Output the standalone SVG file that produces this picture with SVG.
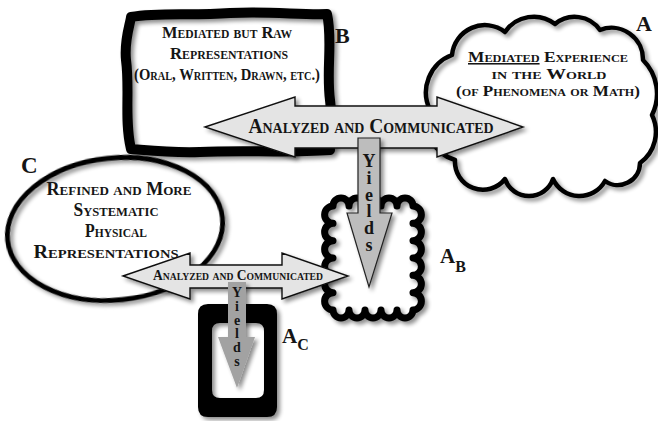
<svg xmlns="http://www.w3.org/2000/svg" width="658" height="421" viewBox="0 0 658 421">
  <style>
    .sc { font-family: "Liberation Serif", "Times New Roman", serif; font-weight: bold; font-variant: small-caps; fill: #151515; text-anchor: middle; }
    .lbl { font-family: "Liberation Serif", "Times New Roman", serif; font-weight: bold; fill: #151515; }
    .yl { font-family: "Liberation Serif", "Times New Roman", serif; font-weight: bold; fill: #151515; writing-mode: vertical-rl; text-orientation: upright; }
    .thick { fill: none; stroke: #000; stroke-linejoin: round; stroke-linecap: round; }
    .arrow { fill: #e4e4e4; stroke: #111; stroke-width: 1.4; stroke-linejoin: miter; }
  </style>
  <defs>
    <filter id="shadow" x="-15%" y="-15%" width="135%" height="135%">
      <feGaussianBlur in="SourceAlpha" stdDeviation="2.2" result="b"/>
      <feOffset in="b" dx="3" dy="3" result="o"/>
      <feComponentTransfer in="o" result="s">
        <feFuncA type="linear" slope="0.45"/>
      </feComponentTransfer>
      <feMerge>
        <feMergeNode in="s"/>
        <feMergeNode in="SourceGraphic"/>
      </feMerge>
    </filter>
    <filter id="soft" x="-15%" y="-15%" width="135%" height="135%">
      <feGaussianBlur in="SourceGraphic" stdDeviation="0.7" result="g"/>
      <feGaussianBlur in="SourceAlpha" stdDeviation="2.2" result="b"/>
      <feOffset in="b" dx="3" dy="3" result="o"/>
      <feComponentTransfer in="o" result="s">
        <feFuncA type="linear" slope="0.45"/>
      </feComponentTransfer>
      <feMerge>
        <feMergeNode in="s"/>
        <feMergeNode in="g"/>
      </feMerge>
    </filter>
  </defs>

  <rect width="658" height="421" fill="#fff"/>

  <!-- B: raw representations, hand-drawn thick frame -->
  <g id="node-b">
    <path class="thick" filter="url(#soft)" stroke-width="10" fill="#fff"
          d="M131,17 C160,12 190,16 230,13 C270,11 300,15 327,14 C333,40 326,70 330,100 C333,120 328,140 330,150 C290,153 240,150 200,152 C170,153 145,150 131,149 C124,120 130,90 126,60 C124,40 130,25 131,17 Z"/>
    <text class="sc" x="227" y="38" font-size="17" textLength="130" lengthAdjust="spacingAndGlyphs">Mediated but Raw</text>
    <text class="sc" x="229" y="59" font-size="17" textLength="118" lengthAdjust="spacingAndGlyphs">Representations</text>
    <text class="sc" x="227" y="80" font-size="17" textLength="186" lengthAdjust="spacingAndGlyphs">(Oral, Written, Drawn, etc.)</text>
    <text class="lbl" x="335" y="43" font-size="22">B</text>
  </g>

  <!-- A: experience in the world, cloud -->
  <g id="node-a">
    <path class="thick" filter="url(#shadow)" stroke-width="4.5" fill="#fff"
          d="M430,110 A40,40 0 0 1 452,55 A33,33 0 0 1 505,32 A34.6,34.6 0 0 1 555,24 A30.8,30.8 0 0 1 600,30 A31.5,31.5 0 0 1 643,60 A47.6,47.6 0 0 1 652,115 A38.5,38.5 0 0 1 640,163 A22.2,22.2 0 0 1 605,181 A29.1,29.1 0 0 1 553,179 A25.4,25.4 0 0 1 505,179 A28,28 0 0 1 455,160 A38.5,38.5 0 0 1 430,110 Z"/>
    <text class="sc" x="548" y="62" font-size="15.5" textLength="160" lengthAdjust="spacingAndGlyphs"><tspan text-decoration="underline">Mediated</tspan> Experience</text>
    <text class="sc" x="549" y="79" font-size="15.5" textLength="115" lengthAdjust="spacingAndGlyphs">in the World</text>
    <text class="sc" x="548" y="96" font-size="15.5" textLength="184" lengthAdjust="spacingAndGlyphs">(of Phenomena or Math)</text>
    <text class="lbl" x="636" y="31" font-size="22">A</text>
  </g>

  <!-- C: refined representations, ellipse -->
  <g id="node-c">
    <ellipse class="thick" filter="url(#shadow)" stroke-width="4.8" fill="#fff" cx="115" cy="229" rx="108" ry="71" transform="rotate(-6 115 229)"/>
    <text class="sc" x="119" y="195" font-size="18" textLength="145" lengthAdjust="spacingAndGlyphs">Refined and More</text>
    <text class="sc" x="116" y="216" font-size="18" textLength="85" lengthAdjust="spacingAndGlyphs">Systematic</text>
    <text class="sc" x="116" y="237" font-size="18" textLength="62" lengthAdjust="spacingAndGlyphs">Physical</text>
    <text class="sc" x="106" y="258" font-size="18" textLength="145" lengthAdjust="spacingAndGlyphs">Representations</text>
    <text class="lbl" x="21" y="173" font-size="23">C</text>
  </g>

  <!-- A_B: scalloped frame -->
  <g id="node-ab">
    <path class="thick" filter="url(#shadow)" stroke-width="7" fill="#fff"
          d="M333,206 a8,8 0 0 1 16,0 a8,8 0 0 1 16,0 a8,8 0 0 1 16,0 a8,8 0 0 1 16,0 a8,8 0 0 1 16,0
             a8.67,8.67 0 0 1 0,17.33 a8.67,8.67 0 0 1 0,17.33 a8.67,8.67 0 0 1 0,17.33 a8.67,8.67 0 0 1 0,17.33 a8.67,8.67 0 0 1 0,17.33 a8.67,8.67 0 0 1 0,17.33
             a8,8 0 0 1 -16,0 a8,8 0 0 1 -16,0 a8,8 0 0 1 -16,0 a8,8 0 0 1 -16,0 a8,8 0 0 1 -16,0
             a8.67,8.67 0 0 1 0,-17.33 a8.67,8.67 0 0 1 0,-17.33 a8.67,8.67 0 0 1 0,-17.33 a8.67,8.67 0 0 1 0,-17.33 a8.67,8.67 0 0 1 0,-17.33 a8.67,8.67 0 0 1 0,-17.33 Z"/>
    <text class="lbl" x="440" y="263" font-size="21">A<tspan font-size="16" dy="9">B</tspan></text>
  </g>

  <!-- A_C: heavy rounded frame -->
  <g id="node-ac">
    <path filter="url(#shadow)" fill="#000" fill-rule="evenodd"
          d="M208,304 H267 Q277,304 277,314 V407 Q277,417 267,417 H208 Q198,417 198,407 V314 Q198,304 208,304 Z
             M220,323 H256 Q264,323 264,331 V390 Q264,398 256,398 H220 Q212,398 212,390 V331 Q212,323 220,323 Z"/>
    <text class="lbl" x="282" y="343" font-size="21">A<tspan font-size="16" dy="7">C</tspan></text>
  </g>

  <!-- connectors -->
  <g id="connectors">
    <!-- B <-> A, analyzed and communicated -->
    <g id="edge-b-a">
      <path class="arrow" filter="url(#shadow)"
            d="M205,127 L295,97 L295,106 L437,106 L437,97 L523,127 L437,157 L437,148 L295,148 L295,157 Z"/>
      <text class="sc" x="371" y="133" font-size="21" textLength="245" lengthAdjust="spacingAndGlyphs">Analyzed and Communicated</text>
    </g>
    <!-- yields A_B: letters stacked upright down the shaft -->
    <g id="edge-yields-ab">
      <path filter="url(#shadow)" fill="#bdbdbd" stroke="#222" stroke-width="1.2"
            d="M358,138 L380,138 L380,213 L392,213 L369,287 L347,213 L358,213 Z"/>
      <text class="yl" x="369" y="151" font-size="18" textLength="104" lengthAdjust="spacing">Yields</text>
    </g>
    <!-- C <-> A_B, analyzed and communicated -->
    <g id="edge-c-ab">
      <path class="arrow" filter="url(#shadow)"
            d="M123,276 L190,253 L190,265 L282,265 L282,253 L348,276 L282,299 L282,288 L190,288 L190,299 Z"/>
      <text class="sc" x="238" y="280" font-size="14" textLength="170" lengthAdjust="spacingAndGlyphs">Analyzed and Communicated</text>
    </g>
    <!-- yields A_C -->
    <g id="edge-yields-ac">
      <path filter="url(#shadow)" fill="#a2a2a2"
            d="M228,282 L246,282 L246,337 L255,337 L237,388 L218,337 L228,337 Z"/>
      <text class="yl" x="237" y="285" font-size="14" textLength="84" lengthAdjust="spacing">Yields</text>
    </g>
  </g>
</svg>
